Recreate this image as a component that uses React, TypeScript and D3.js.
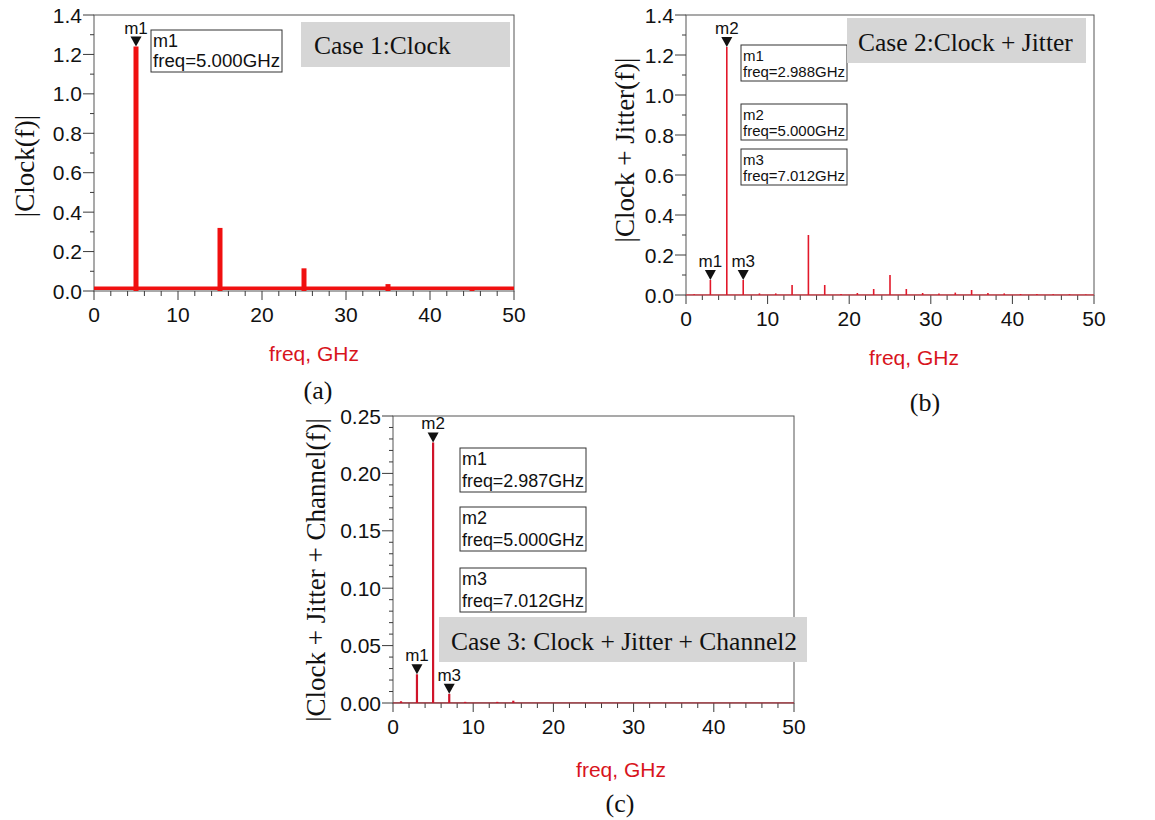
import React from "react";
import * as d3 from "d3";

// ---------- shared axis data ----------
const FREQ_DOMAIN: [number, number] = [0, 50];
const FREQ_MAJOR = [0, 10, 20, 30, 40, 50];
const FREQ_MINOR_STEP = 2;
const X_TITLE = "freq, GHz";

// ---------- Case 1: clock only ----------
const clockFreqs = [5, 15, 25, 35, 45];
const clockMags = [1.24, 0.32, 0.115, 0.035, 0.018];
const clockFloor = 0.008;
const clockYTicks = [0, 0.2, 0.4, 0.6, 0.8, 1.0, 1.2, 1.4];
const clockMarkers = [{ name: "m1", freq: 5.0, mag: 1.24 }];

// ---------- Case 2: clock + jitter ----------
const jitterFreqs = [1, 2.988, 5, 7.012, 9, 11, 13, 15, 17, 19, 21, 23, 25, 27, 29, 31, 33, 35, 37, 39, 41, 43, 45, 47, 49];
const jitterMags = [0.004, 0.075, 1.24, 0.075, 0.008, 0.008, 0.05, 0.3, 0.05, 0.005, 0.01, 0.03, 0.1, 0.03, 0.01, 0.008, 0.012, 0.025, 0.01, 0.008, 0.005, 0.005, 0.004, 0.004, 0.003];
const jitterYTicks = [0, 0.2, 0.4, 0.6, 0.8, 1.0, 1.2, 1.4];
const jitterMarkers = [
  { name: "m1", freq: 2.988, mag: 0.075 },
  { name: "m2", freq: 5.0, mag: 1.24 },
  { name: "m3", freq: 7.012, mag: 0.075 },
];

// ---------- Case 3: clock + jitter + channel ----------
const channelFreqs = [1, 2.987, 5, 7.012, 9, 13, 15];
const channelMags = [0.0015, 0.025, 0.227, 0.008, 0.001, 0.001, 0.002];
const channelYTicks = [0, 0.05, 0.1, 0.15, 0.2, 0.25];
const channelMarkers = [
  { name: "m1", freq: 2.987, mag: 0.025 },
  { name: "m2", freq: 5.0, mag: 0.227 },
  { name: "m3", freq: 7.012, mag: 0.008 },
];

const SANS = "'Liberation Sans', Arial, sans-serif";
const SERIF = "'Liberation Serif', 'Times New Roman', serif";

type Marker = { name: string; freq: number; mag: number };

type PanelProps = {
  left: number;
  right: number;
  top: number;
  bottom: number;
  yMax: number;
  yTicks: number[];
  yMinorStep: number;
  yDigits: number;
  freqs: number[];
  mags: number[];
  floor?: number;
  spikeWidth: number;
  spikeColor: string;
  baseColor: string;
  baseWidth: number;
  markers: Marker[];
  markerBox: { x: number; w: number; tops: number[]; h: number; line1: number; line2: number; font: number };
  yTitle: string;
  yTitleX: number;
  yTitleY: number;
  xTitleX: number;
  xTitleY: number;
  caseBox: { x: number; y: number; w: number; h: number; tx: number; ty: number; text: string };
  caption: string;
  captionX: number;
  captionY: number;
};

function Panel(p: PanelProps) {
  const x = d3.scaleLinear().domain(FREQ_DOMAIN).range([p.left, p.right]);
  const y = d3.scaleLinear().domain([0, p.yMax]).range([p.bottom, p.top]);
  const fmt = d3.format(`.${p.yDigits}f`);

  const xMinor = d3.range(FREQ_DOMAIN[0], FREQ_DOMAIN[1] + 0.001, FREQ_MINOR_STEP).filter(
    (v) => !FREQ_MAJOR.includes(v)
  );
  const nMinor = Math.round(p.yMax / p.yMinorStep);
  const yMinor = d3
    .range(0, nMinor + 1)
    .map((i) => i * p.yMinorStep)
    .filter((v) => !p.yTicks.some((t) => Math.abs(t - v) < 1e-9));

  const axisColor = "#3a3a3a";

  return (
    <g>
      {/* plot frame */}
      <rect
        x={p.left}
        y={p.top}
        width={p.right - p.left}
        height={p.bottom - p.top}
        fill="white"
        stroke="#555"
        strokeWidth={1}
      />

      {/* y ticks */}
      {p.yTicks.map((t) => (
        <g key={`yt${t}`}>
          <line x1={p.left - 11} x2={p.left} y1={y(t)} y2={y(t)} stroke={axisColor} />
          <text
            x={p.left - 12}
            y={y(t)}
            dy="0.36em"
            textAnchor="end"
            fontFamily={SANS}
            fontSize={21}
            fill="#111"
          >
            {fmt(t)}
          </text>
        </g>
      ))}
      {yMinor.map((t) => (
        <line key={`ym${t}`} x1={p.left - 4} x2={p.left} y1={y(t)} y2={y(t)} stroke={axisColor} />
      ))}

      {/* x ticks */}
      {FREQ_MAJOR.map((t) => (
        <g key={`xt${t}`}>
          <line x1={x(t)} x2={x(t)} y1={p.bottom} y2={p.bottom + 9} stroke={axisColor} />
          <text
            x={x(t)}
            y={p.bottom + 31}
            textAnchor="middle"
            fontFamily={SANS}
            fontSize={21}
            fill="#111"
          >
            {t}
          </text>
        </g>
      ))}
      {xMinor.map((t) => (
        <line key={`xm${t}`} x1={x(t)} x2={x(t)} y1={p.bottom} y2={p.bottom + 5} stroke={axisColor} />
      ))}

      {/* spectrum floor */}
      <line
        x1={x(FREQ_DOMAIN[0])}
        x2={x(FREQ_DOMAIN[1])}
        y1={y(p.floor ?? 0) - p.baseWidth / 2 + 0.5}
        y2={y(p.floor ?? 0) - p.baseWidth / 2 + 0.5}
        stroke={p.baseColor}
        strokeWidth={p.baseWidth}
      />

      {/* spectral lines */}
      {p.freqs.map((f, i) => (
        <line
          key={`s${i}`}
          x1={x(f)}
          x2={x(f)}
          y1={y(0)}
          y2={y(p.mags[i])}
          stroke={p.spikeColor}
          strokeWidth={p.spikeWidth}
        />
      ))}

      {/* marker triangles */}
      {p.markers.map((m) => {
        const mx = x(m.freq);
        const my = y(m.mag);
        return (
          <g key={`mk${m.name}`}>
            <path d={`M${mx - 5.5},${my - 10}L${mx + 5.5},${my - 10}L${mx},${my}Z`} fill="#111" />
            <text
              x={mx}
              y={my - 13}
              textAnchor="middle"
              fontFamily={SANS}
              fontSize={17}
              fill="#111"
            >
              {m.name}
            </text>
          </g>
        );
      })}

      {/* marker readouts */}
      {p.markers.map((m, i) => {
        const top = p.markerBox.tops[i];
        const bx = p.markerBox.x;
        return (
          <g key={`mb${m.name}`}>
            <rect
              x={bx}
              y={top}
              width={p.markerBox.w}
              height={p.markerBox.h}
              fill="white"
              stroke="#333"
              strokeWidth={1}
            />
            <text x={bx + 2} y={top + p.markerBox.line1} fontFamily={SANS} fontSize={p.markerBox.font} fill="#111">
              {m.name}
            </text>
            <text
              x={bx + 2}
              y={top + p.markerBox.line2}
              fontFamily={SANS}
              fontSize={p.markerBox.font}
              fill="#111"
              textLength={p.markerBox.w - 4}
              lengthAdjust="spacingAndGlyphs"
            >
              {`freq=${m.freq.toFixed(3)}GHz`}
            </text>
          </g>
        );
      })}

      {/* case label */}
      <rect x={p.caseBox.x} y={p.caseBox.y} width={p.caseBox.w} height={p.caseBox.h} fill="#d6d6d6" />
      <text x={p.caseBox.tx} y={p.caseBox.ty} fontFamily={SERIF} fontSize={25.5} fill="#111">
        {p.caseBox.text}
      </text>

      {/* axis titles */}
      <text
        transform={`translate(${p.yTitleX},${p.yTitleY}) rotate(-90)`}
        textAnchor="middle"
        dy="0.35em"
        fontFamily={SERIF}
        fontSize={27}
        fill="#111"
      >
        {p.yTitle}
      </text>
      <text x={p.xTitleX} y={p.xTitleY} textAnchor="middle" fontFamily={SANS} fontSize={21} fill="#d8141c">
        {X_TITLE}
      </text>
      <text x={p.captionX} y={p.captionY} textAnchor="middle" fontFamily={SERIF} fontSize={26} fill="#111">
        {p.caption}
      </text>
    </g>
  );
}

export default function App() {
  return (
    <svg
      width={1155}
      height={820}
      viewBox="0 0 1155 820"
      style={{ position: "absolute", left: 0, top: 0, background: "white" }}
    >
      <rect width={1155} height={820} fill="white" />
      <Panel
        left={94}
        right={514}
        top={15}
        bottom={291}
        yMax={1.4}
        yTicks={clockYTicks}
        yMinorStep={0.1}
        yDigits={1}
        freqs={clockFreqs}
        mags={clockMags}
        floor={clockFloor}
        spikeWidth={5}
        spikeColor="#f01010"
        baseColor="#f01010"
        baseWidth={3.5}
        markers={clockMarkers}
        markerBox={{ x: 151, w: 131, tops: [30], h: 42, line1: 17, line2: 37, font: 18 }}
        yTitle="|Clock(f)|"
        yTitleX={25}
        yTitleY={166}
        xTitleX={314}
        xTitleY={361}
        caseBox={{ x: 301, y: 22, w: 209, h: 45, tx: 314, ty: 54, text: "Case 1:Clock" }}
        caption="(a)"
        captionX={318}
        captionY={399}
      />
      <Panel
        left={686}
        right={1094}
        top={15}
        bottom={295}
        yMax={1.4}
        yTicks={jitterYTicks}
        yMinorStep={0.1}
        yDigits={1}
        freqs={jitterFreqs}
        mags={jitterMags}
        spikeWidth={1.6}
        spikeColor="#e2182a"
        baseColor="#d2404a"
        baseWidth={1.3}
        markers={jitterMarkers}
        markerBox={{ x: 741, w: 106, tops: [45, 104, 149], h: 36, line1: 16, line2: 32, font: 15 }}
        yTitle="|Clock + Jitter(f)|"
        yTitleX={625}
        yTitleY={150}
        xTitleX={914}
        xTitleY={365}
        caseBox={{ x: 847, y: 18, w: 239, h: 45, tx: 858, ty: 51, text: "Case 2:Clock + Jitter" }}
        caption="(b)"
        captionX={925}
        captionY={411}
      />
      <Panel
        left={393}
        right={794}
        top={416}
        bottom={703}
        yMax={0.25}
        yTicks={channelYTicks}
        yMinorStep={0.01}
        yDigits={2}
        freqs={channelFreqs}
        mags={channelMags}
        spikeWidth={2.2}
        spikeColor="#d0142a"
        baseColor="#a2303a"
        baseWidth={1.3}
        markers={channelMarkers}
        markerBox={{ x: 460, w: 126, tops: [448, 507, 568], h: 44, line1: 17, line2: 39, font: 18 }}
        yTitle="|Clock + Jitter + Channel(f)|"
        yTitleX={316}
        yTitleY={570}
        xTitleX={621}
        xTitleY={777}
        caseBox={{ x: 439, y: 617, w: 368, h: 45, tx: 451, ty: 650, text: "Case 3: Clock + Jitter + Channel2" }}
        caption="(c)"
        captionX={620}
        captionY={812}
      />
    </svg>
  );
}
